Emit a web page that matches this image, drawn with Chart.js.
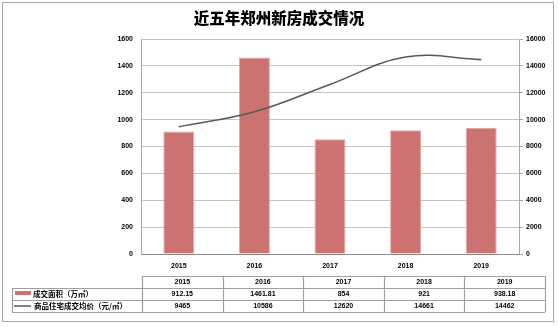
<!DOCTYPE html>
<html><head><meta charset="utf-8">
<script src="https://cdn.jsdelivr.net/npm/chart.js@4/dist/chart.umd.min.js"></script>
<style>html,body{margin:0;padding:0;background:#fff;}#wrap{width:558px;height:327px;position:relative;}</style>
</head><body><div id="wrap"><canvas id="c" width="558" height="327"></canvas></div>
<script>
const title = '近五年郑州新房成交情况';
const years = ['2015','2016','2017','2018','2019'];
const areaLabel = '成交面积（万㎡）';
const priceLabel = '商品住宅成交均价（元/㎡）';
const areaValues = [912.15, 1461.81, 854, 921, 938.18];
const areaText = ['912.15','1461.81','854','921','938.18'];
const priceValues = [9465, 10586, 12620, 14661, 14462];
const priceText = ['9465','10586','12620','14661','14462'];

const BAR = '#CC7371', LINE = '#595959', GRID = '#c4c4c4', TB = '#a0a0a0';
const tickFont = {family:'"Liberation Sans", Arial, sans-serif', size:7, weight:'bold'};
const plain = v => String(v);

const deco = {
  id:'deco',
  afterDraw(chart){
    const ctx = chart.ctx;
    ctx.save();
    ctx.strokeStyle = '#a8a8a8'; ctx.lineWidth = 1;
    ctx.strokeRect(2.5, 2.5, 551, 319);
    ctx.fillStyle = '#000';
    ctx.font = '900 15.5px "Noto Sans CJK SC", sans-serif';
    ctx.textAlign = 'center'; ctx.textBaseline = 'middle';
    ctx.fillText(title, 279, 18);
    const x0 = 142, x1 = 545, lx = 12;
    const cw = (x1 - x0) / years.length;
    const rows = [276, 288, 300, 312];
    ctx.strokeStyle = TB; ctx.lineWidth = 1.2;
    ctx.beginPath();
    ctx.moveTo(x0, rows[0]+.5); ctx.lineTo(x1, rows[0]+.5);
    for (let r = 1; r < rows.length; r++){ ctx.moveTo(lx, rows[r]+.5); ctx.lineTo(x1, rows[r]+.5); }
    ctx.moveTo(lx+.5, rows[1]); ctx.lineTo(lx+.5, rows[3]);
    for (let i = 0; i <= years.length; i++){ const x = Math.round(x0 + i*cw)+.5; ctx.moveTo(x, rows[0]); ctx.lineTo(x, rows[3]); }
    ctx.stroke();
    ctx.font = 'bold 7px "Liberation Sans", Arial, sans-serif';
    ctx.fillStyle = '#000'; ctx.textAlign = 'center'; ctx.textBaseline = 'middle';
    const lines = [years, areaText, priceText];
    for (let r = 0; r < 3; r++){
      for (let i = 0; i < years.length; i++){
        ctx.fillText(lines[r][i], x0 + cw*(i+0.5), (rows[r]+rows[r+1])/2 + 0.5);
      }
    }
    ctx.fillStyle = BAR;
    ctx.fillRect(15, 291, 16, 4);
    ctx.strokeStyle = LINE; ctx.lineWidth = 1.5;
    ctx.beginPath(); ctx.moveTo(14, 306); ctx.lineTo(31, 306); ctx.stroke();
    ctx.fillStyle = '#000'; ctx.textAlign = 'left';
    ctx.font = 'bold 7.5px "Noto Sans CJK SC", sans-serif';
    ctx.fillText(areaLabel, 33, 294);
    ctx.fillText(priceLabel, 34, 306);
    ctx.restore();
  }
};

new Chart(document.getElementById('c'), {
  data: {
    labels: years,
    datasets: [
      {type:'line', label: priceLabel, data: priceValues, yAxisID:'y2', borderColor: LINE, borderWidth: 1.6,
       tension: 0.4, pointRadius: 0, fill:false, order: 0},
      {type:'bar', label: areaLabel, data: areaValues, yAxisID:'y', backgroundColor: BAR, borderColor:'#e4a4a2',
       borderWidth: 1, barPercentage: 0.41, categoryPercentage: 1, order: 1}
    ]
  },
  options: {
    responsive:false, animation:false,
    layout:{padding:{top:39, left:0, right:0, bottom:0}},
    plugins:{legend:{display:false}, tooltip:{enabled:false}, title:{display:false}},
    scales:{
      x:{
        grid:{display:false, drawTicks:false},
        border:{display:true, color:'#8a8a8a', width:1},
        ticks:{font:tickFont, color:'#000', padding:8, maxRotation:0},
        afterFit(s){ s.height = 73; }
      },
      y:{
        position:'left', min:0, max:1600,
        ticks:{stepSize:200, font:tickFont, color:'#000', padding:8, callback: plain},
        grid:{color:GRID, drawTicks:false},
        border:{display:true, color:'#a8a8a8', width:1},
        afterFit(s){ s.width = 141; }
      },
      y2:{
        position:'right', min:0, max:16000,
        ticks:{stepSize:2000, font:tickFont, color:'#000', padding:3, callback: plain},
        grid:{drawOnChartArea:false, drawTicks:true, tickLength:4, color:'#a8a8a8'},
        border:{display:true, color:'#a8a8a8', width:1},
        afterFit(s){ s.width = 39; }
      }
    }
  },
  plugins:[deco]
});
</script></body></html>
